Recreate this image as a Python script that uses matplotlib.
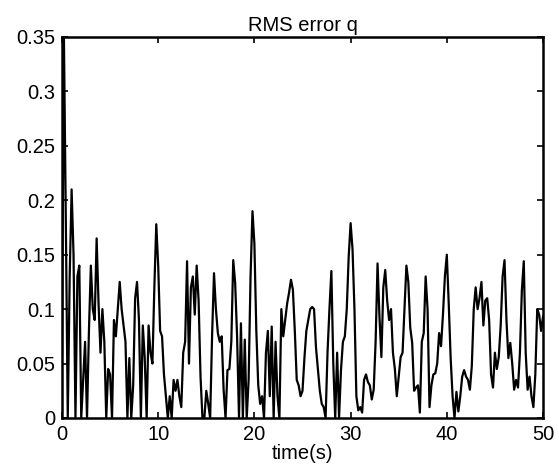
import numpy as np
import matplotlib
matplotlib.use("Agg")
import matplotlib.pyplot as plt

plt.rcParams['font.family'] = ['Liberation Sans', 'DejaVu Sans']

# RMS error of q, sampled every 0.2 s from 0 to 50 s
dt = 0.2
rms_q = [
    0.06, 0.35, 0.18, 0.0, 0.13, 0.21, 0.15, 0.0, 0.13, 0.14,          # 0-1.8
    0.0, 0.035, 0.07, 0.0, 0.08, 0.14, 0.10, 0.09, 0.165, 0.105,       # 2-3.8
    0.06, 0.10, 0.07, 0.0, 0.045, 0.04, 0.0, 0.09, 0.075, 0.10,        # 4-5.8
    0.125, 0.10, 0.085, 0.07, 0.0, 0.055, 0.0, 0.03, 0.11, 0.125,      # 6-7.8
    0.09, 0.0, 0.085, 0.055, 0.0, 0.085, 0.06, 0.05, 0.12, 0.178,      # 8-9.8
    0.14, 0.08, 0.075, 0.04, 0.02, 0.0, 0.02, 0.0, 0.035, 0.025,       # 10-11.8
    0.035, 0.02, 0.01, 0.06, 0.07, 0.144, 0.05, 0.12, 0.13, 0.095,     # 12-13.8
    0.14, 0.108, 0.038, 0.0, 0.0, 0.025, 0.013, 0.0, 0.075, 0.133,     # 14-15.8
    0.10, 0.078, 0.07, 0.075, 0.026, 0.0, 0.044, 0.045, 0.07, 0.145,   # 16-17.8
    0.124, 0.075, 0.0, 0.087, 0.0, 0.072, 0.0, 0.035, 0.13, 0.19,      # 18-19.8
    0.16, 0.08, 0.03, 0.013, 0.02, 0.0, 0.06, 0.08, 0.02, 0.084,       # 20-21.8
    0.0, 0.07, 0.02, 0.0, 0.10, 0.075, 0.09, 0.105, 0.115, 0.127,      # 22-23.8
    0.118, 0.08, 0.035, 0.03, 0.02, 0.025, 0.055, 0.08, 0.09, 0.10,    # 24-25.8
    0.102, 0.10, 0.065, 0.045, 0.025, 0.013, 0.01, 0.0, 0.06, 0.10,    # 26-27.8
    0.135, 0.05, 0.0, 0.06, 0.0, 0.044, 0.07, 0.075, 0.10, 0.148,      # 28-29.8
    0.179, 0.155, 0.10, 0.02, 0.007, 0.01, 0.005, 0.035, 0.04, 0.033,  # 30-31.8
    0.03, 0.017, 0.026, 0.07, 0.142, 0.093, 0.056, 0.12, 0.136, 0.108, # 32-33.8
    0.09, 0.10, 0.06, 0.045, 0.02, 0.038, 0.056, 0.06, 0.10, 0.14,     # 34-35.8
    0.125, 0.083, 0.069, 0.025, 0.028, 0.03, 0.005, 0.07, 0.078, 0.13, # 36-37.8
    0.10, 0.01, 0.03, 0.04, 0.041, 0.05, 0.078, 0.066, 0.095, 0.13,    # 38-39.8
    0.15, 0.105, 0.055, 0.02, 0.0, 0.024, 0.006, 0.02, 0.038, 0.044,   # 40-41.8
    0.038, 0.035, 0.026, 0.048, 0.10, 0.12, 0.10, 0.11, 0.125, 0.085,  # 42-43.8
    0.108, 0.11, 0.09, 0.04, 0.028, 0.06, 0.045, 0.056, 0.085, 0.13,   # 44-45.8
    0.145, 0.09, 0.055, 0.069, 0.05, 0.026, 0.035, 0.028, 0.06, 0.117, # 46-47.8
    0.144, 0.06, 0.026, 0.038, 0.02, 0.01, 0.04, 0.10, 0.095, 0.08,    # 48-49.8
    0.093,                                                             # 50
]
time_s = np.arange(len(rms_q)) * dt

x_ticks = [0, 10, 20, 30, 40, 50]
y_ticks = [0, 0.05, 0.1, 0.15, 0.2, 0.25, 0.3, 0.35]
y_tick_labels = ['0', '0.05', '0.1', '0.15', '0.2', '0.25', '0.3', '0.35']

fig = plt.figure(figsize=(5.59, 4.73), dpi=100)
ax = fig.add_axes([0.1109, 0.1163, 0.8605, 0.8055])

ax.plot(time_s, rms_q, color='black', linewidth=1.6)

ax.set_xlim(0, 50)
ax.set_ylim(0, 0.35)
ax.set_xticks(x_ticks)
ax.set_xticklabels([str(v) for v in x_ticks])
ax.set_yticks(y_ticks)
ax.set_yticklabels(y_tick_labels)

ax.tick_params(direction='in', length=4, width=1.2, top=True, right=True,
               labelsize=14.5, colors='black', pad=5)
for side in ax.spines.values():
    side.set_linewidth(1.8)
    side.set_color('black')

ax.set_title('RMS error q', fontsize=14.5, pad=4)
ax.set_xlabel('time(s)', fontsize=14.5, va='top')
ax.xaxis.set_label_coords(0.5, -0.068)

fig.savefig('out.png', dpi=100, facecolor='white')
